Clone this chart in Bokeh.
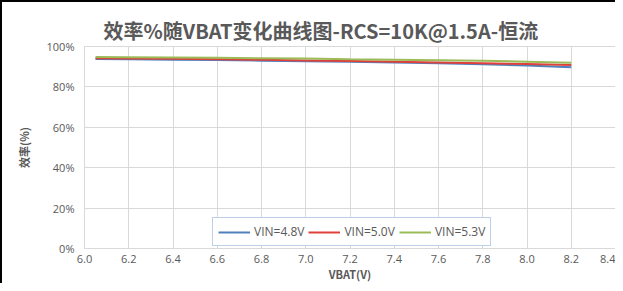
from bokeh.plotting import figure
from bokeh.models import Legend, LegendItem, PrintfTickFormatter, FixedTicker, Range1d
from bokeh.embed import file_html
from bokeh.resources import INLINE

vbat = [6.05, 6.2, 6.4, 6.6, 6.8, 7.0, 7.2, 7.4, 7.6, 7.8, 8.0, 8.2]
eff_48 = [93.8, 93.7, 93.5, 93.3, 93.0, 92.7, 92.4, 92.1, 91.7, 91.2, 90.6, 89.7]
eff_50 = [94.2, 94.1, 93.9, 93.7, 93.4, 93.1, 92.8, 92.5, 92.1, 91.7, 91.3, 90.8]
eff_53 = [94.8, 94.7, 94.6, 94.4, 94.2, 94.0, 93.7, 93.5, 93.2, 92.9, 92.5, 92.0]
series_names = ["VIN=4.8V", "VIN=5.0V", "VIN=5.3V"]
colors = ["#4F81BD", "#E0403A", "#9BBB59"]
x_ticks = [6.0, 6.2, 6.4, 6.6, 6.8, 7.0, 7.2, 7.4, 7.6, 7.8, 8.0, 8.2, 8.4]
y_ticks = [0, 20, 40, 60, 80, 100]
title_text = "效率%随VBAT变化曲线图-RCS=10K@1.5A-恒流"

grey = "#595959"
grid = "#d9d9d9"

p = figure(width=615, height=283, output_backend="svg", toolbar_location=None,
           x_range=Range1d(6.0, 8.4), y_range=Range1d(0, 100),
           min_border_left=82, min_border_right=2, min_border_top=44, min_border_bottom=37)
p.styles = {"border-left": "2px solid black", "border-top": "2px solid black"}

p.title.text = title_text
p.title.text_font = "Noto Sans CJK SC"
p.title.text_font_size = "20px"
p.title.text_font_style = "bold"
p.title.text_color = grey
p.title.align = "left"
p.title.offset = 19
p.title.standoff = 4

p.outline_line_color = grid
p.xgrid.grid_line_color = grid
p.ygrid.grid_line_color = grid

p.xaxis.ticker = FixedTicker(ticks=x_ticks)
p.yaxis.ticker = FixedTicker(ticks=y_ticks)
p.xaxis.formatter = PrintfTickFormatter(format="%.1f")
p.yaxis.formatter = PrintfTickFormatter(format="%d%%")
for ax in (p.xaxis, p.yaxis):
    ax.axis_line_color = grid
    ax.major_tick_line_color = None
    ax.minor_tick_line_color = None
    ax.major_tick_out = 0
    ax.major_tick_in = 0
    ax.major_label_text_font = "Open Sans"
    ax.major_label_text_font_size = "11px"
    ax.major_label_text_color = grey
    ax.axis_label_text_font = "Noto Sans CJK SC"
    ax.axis_label_text_font_size = "11px"
    ax.axis_label_text_font_style = "bold"
    ax.axis_label_text_color = grey
p.xaxis.axis_label = "VBAT(V)"
p.yaxis.axis_label = "效率(%)"
p.xaxis.major_label_standoff = 6
p.yaxis.major_label_standoff = 10
p.xaxis.axis_label_standoff = 0
p.yaxis.axis_label_standoff = 12

renderers = []
for ys, c in zip([eff_48, eff_50, eff_53], colors):
    r = p.line(vbat, ys, line_color=c, line_width=2)
    renderers.append(r)

legend = Legend(items=[LegendItem(label=n, renderers=[r]) for n, r in zip(series_names, renderers)],
                orientation="horizontal", location=(128, 2),
                border_line_color="#7f9fcf", border_line_width=1,
                background_fill_color="white", background_fill_alpha=1,
                label_text_font="Open Sans", label_text_font_size="12px", label_text_color=grey,
                glyph_width=32, glyph_height=12, spacing=4, padding=5, margin=0,
                label_standoff=4)
p.add_layout(legend, "center")

open("out.html", "w").write(file_html(p, INLINE))
